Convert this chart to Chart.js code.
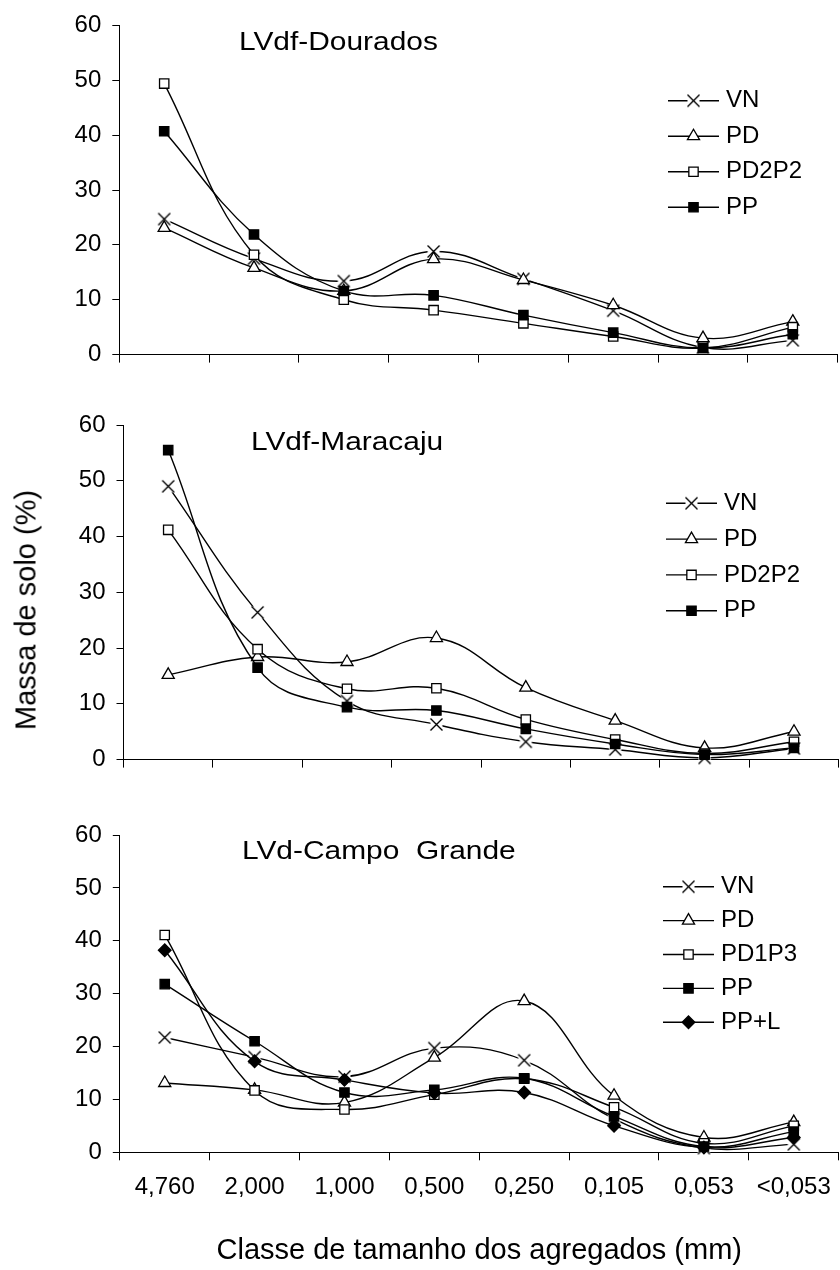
<!DOCTYPE html>
<html>
<head>
<meta charset="utf-8">
<script src="https://cdn.jsdelivr.net/npm/chart.js@4.4.1/dist/chart.umd.min.js"></script>
<style>
html, body { margin: 0; padding: 0; background: #fff; overflow: hidden; width: 840px; height: 1270px; }
#wrap { position: relative; width: 840px; height: 1270px; overflow: hidden; }
canvas { position: absolute; left: 0; }
.ptitle { position: absolute; font-family: 'Liberation Sans', Arial, sans-serif; font-size: 26px; line-height: 26px; white-space: pre; color: #000; transform: scaleX(1.15); transform-origin: 0 0; }
#ytitle { position: absolute; left: 26px; top: 610px; transform: translate(-50%, -50%) rotate(-90deg); font-family: 'Liberation Sans', Arial, sans-serif; font-size: 29px; line-height: 29px; white-space: nowrap; color: #000; }
</style>
</head>
<body>
<div id="wrap">
  <canvas id="c1" width="846" height="380" style="top:0px"></canvas>
  <canvas id="c2" width="847" height="400" style="top:385px"></canvas>
  <canvas id="c3" width="847" height="475" style="top:795px"></canvas>
  <div class="ptitle" id="t1" style="left:239.2px; top:28.3px"></div>
  <div class="ptitle" id="t2" style="left:250.7px; top:428.3px"></div>
  <div class="ptitle" id="t3" style="left:241.7px; top:836.6px"></div>
  <div id="ytitle"></div>
</div>
<script>
// ---------- data ----------
const categories = ['4,760', '2,000', '1,000', '0,500', '0,250', '0,105', '0,053', '<0,053'];
const yTickValues = [0, 10, 20, 30, 40, 50, 60];

const titleDourados = 'LVdf-Dourados';
const titleMaracaju = 'LVdf-Maracaju';
const titleCampoGrande = 'LVd-Campo  Grande';
const yAxisTitle = 'Massa de solo (%)';
const xAxisTitle = 'Classe de tamanho dos agregados (mm)';

// LVdf-Dourados
const douradosVN     = [24.7, 17.5, 13.4, 18.8, 13.8, 8.0, 1.3, 2.6];
const douradosPD     = [23.1, 15.8, 11.6, 17.4, 13.6, 9.0, 3.0, 6.0];
const douradosPD2P2  = [49.4, 18.2, 10.0, 8.1, 5.7, 3.3, 1.2, 5.0];
const douradosPP     = [40.7, 21.9, 11.6, 10.8, 7.2, 4.0, 1.2, 3.7];

// LVdf-Maracaju
const maracajuVN     = [49.0, 26.4, 10.5, 6.3, 3.2, 1.8, 0.3, 2.0];
const maracajuPD     = [15.2, 18.4, 17.5, 21.8, 12.9, 7.0, 2.1, 5.0];
const maracajuPD2P2  = [41.2, 19.8, 12.7, 12.8, 7.2, 3.6, 1.1, 3.2];
const maracajuPP     = [55.5, 16.5, 9.4, 8.8, 5.5, 2.8, 0.9, 2.1];

// LVd-Campo Grande
const campoVN        = [21.7, 18.0, 14.3, 19.7, 17.4, 6.3, 0.8, 1.5];
const campoPD        = [13.1, 11.8, 9.4, 17.9, 28.6, 10.7, 2.8, 5.7];
const campoPD1P3     = [41.1, 11.7, 8.1, 10.9, 13.9, 8.5, 1.7, 5.0];
const campoPP        = [31.8, 21.0, 11.3, 11.8, 14.0, 6.8, 1.1, 3.9];
const campoPPL       = [38.2, 17.2, 13.7, 11.2, 11.3, 5.0, 0.9, 2.8];

// ---------- styles ----------
const FONT = "'Liberation Sans', Arial, sans-serif";
Chart.defaults.font.family = FONT;
Chart.defaults.color = '#000';

function makeXMarker() {
  const c = document.createElement('canvas');
  c.width = 15; c.height = 15;
  const g = c.getContext('2d');
  g.fillStyle = '#fff';
  g.fillRect(1.5, 1.5, 12, 12);
  g.strokeStyle = '#000';
  g.lineWidth = 1.4;
  g.beginPath();
  g.moveTo(1.5, 1.5); g.lineTo(13.5, 13.5);
  g.moveTo(13.5, 1.5); g.lineTo(1.5, 13.5);
  g.stroke();
  return c;
}
const xMarker = makeXMarker();

const markerStyles = {
  cross:   { pointStyle: xMarker,    pointRadius: 7,   pointBackgroundColor: '#fff' },
  tri:     { pointStyle: 'triangle', pointRadius: 7,   pointBackgroundColor: '#fff' },
  square:  { pointStyle: 'rect',     pointRadius: 6.6, pointBackgroundColor: '#fff' },
  fsquare: { pointStyle: 'rect',     pointRadius: 6.6, pointBackgroundColor: '#000' },
  diamond: { pointStyle: 'rectRot',  pointRadius: 6.3, pointBackgroundColor: '#000' }
};

const LEG_FONT = 24;
const LEG_LINE = 51;
const LEG_BOX = 46;

function legendPlacer(x, yFirst, pad) {
  return {
    id: 'legendPlacer',
    afterLayout(chart) {
      const lg = chart.legend;
      if (!lg) return;
      lg.left = x - pad;
      lg.top = yFirst - LEG_FONT / 2 - pad;
      lg.width = 200;
      lg.height = 260;
      lg.right = lg.left + lg.width;
      lg.bottom = lg.top + lg.height;
    },
    afterDraw(chart) {
      const lg = chart.legend;
      if (!lg || !lg.legendHitBoxes) return;
      const ctx = chart.ctx;
      lg.legendItems.forEach((item, i) => {
        const hb = lg.legendHitBoxes[i];
        const ds = chart.data.datasets[item.datasetIndex];
        const cy = hb.top + hb.height / 2;
        const x0 = hb.left;
        ctx.save();
        ctx.strokeStyle = '#000';
        ctx.lineWidth = ds.borderWidth;
        ctx.beginPath();
        ctx.moveTo(x0, cy);
        ctx.lineTo(x0 + LEG_LINE, cy);
        ctx.stroke();
        ctx.fillStyle = ds.pointBackgroundColor;
        ctx.strokeStyle = ds.pointBorderColor;
        ctx.lineWidth = ds.pointBorderWidth;
        Chart.helpers.drawPoint(ctx, { pointStyle: ds.pointStyle, radius: ds.pointRadius, borderWidth: ds.pointBorderWidth, rotation: 0 }, x0 + LEG_LINE / 2, cy);
        ctx.restore();
      });
    }
  };
}

function makeChart(id, cfg) {
  const n = cfg.series.length;
  const datasets = cfg.series.map((s, i) => Object.assign({
    label: s.name,
    data: s.data,
    borderColor: '#000',
    borderWidth: 1.4,
    tension: 0.4,
    fill: false,
    pointBorderColor: '#000',
    pointBorderWidth: 1.3,
    clip: false,
    order: n - i
  }, markerStyles[s.marker]));

  return new Chart(document.getElementById(id), {
    type: 'line',
    data: { labels: categories, datasets },
    options: {
      responsive: false,
      animation: false,
      devicePixelRatio: 1,
      events: [],
      layout: { padding: { top: cfg.top, left: 0, right: 0, bottom: 0 } },
      scales: {
        x: {
          type: 'category',
          offset: true,
          grid: { offset: true, drawOnChartArea: false, drawTicks: true, tickLength: 8, color: '#000', tickColor: '#000', lineWidth: 1 },
          border: { display: true, color: '#000', width: 1 },
          ticks: { display: cfg.showX, autoSkip: false, maxRotation: 0, minRotation: 0, padding: 13, font: { size: 24 }, color: '#000' },
          title: { display: cfg.showX, text: xAxisTitle, font: { size: 29 }, color: '#000', padding: { top: 0, bottom: 2 } },
          afterFit: (s) => { s.height = cfg.xh; }
        },
        y: {
          min: yTickValues[0],
          max: yTickValues[yTickValues.length - 1],
          afterBuildTicks: (s) => { s.ticks = yTickValues.map(v => ({ value: v })); },
          grid: { drawOnChartArea: false, drawTicks: true, tickLength: 7, color: '#000', tickColor: '#000', lineWidth: 1 },
          border: { display: true, color: '#000', width: 1 },
          ticks: { padding: 11, font: { size: 24 }, color: '#000' },
          afterFit: (s) => { s.width = cfg.left; }
        }
      },
      plugins: {
        tooltip: { enabled: false },
        title: { display: false },
        legend: {
          display: true,
          position: 'chartArea',
          align: 'start',
          labels: {
            boxWidth: LEG_BOX,
            boxHeight: 10,
            padding: cfg.legPad,
            font: { size: LEG_FONT },
            color: '#000',
            sort: (a, b) => a.datasetIndex - b.datasetIndex,
            generateLabels: (chart) => Chart.defaults.plugins.legend.labels.generateLabels(chart).map(l => Object.assign(l, {
              fillStyle: 'rgba(0,0,0,0)', strokeStyle: 'rgba(0,0,0,0)', lineWidth: 0, pointStyle: undefined
            }))
          }
        }
      }
    },
    plugins: [legendPlacer(cfg.legX, cfg.legY, cfg.legPad)]
  });
}

document.getElementById('t1').textContent = titleDourados;
document.getElementById('t2').textContent = titleMaracaju;
document.getElementById('t3').textContent = titleCampoGrande;
document.getElementById('ytitle').textContent = yAxisTitle;

makeChart('c1', {
  top: 21.7, left: 119.3, xh: 21, showX: false,
  legX: 668, legY: 100.7, legPad: 11.5,
  series: [
    { name: 'VN', data: douradosVN, marker: 'cross' },
    { name: 'PD', data: douradosPD, marker: 'tri' },
    { name: 'PD2P2', data: douradosPD2P2, marker: 'square' },
    { name: 'PP', data: douradosPP, marker: 'fsquare' }
  ]
});

makeChart('c2', {
  top: 40, left: 123.5, xh: 20.7, showX: false,
  legX: 666, legY: 118.3, legPad: 11.8,
  series: [
    { name: 'VN', data: maracajuVN, marker: 'cross' },
    { name: 'PD', data: maracajuPD, marker: 'tri' },
    { name: 'PD2P2', data: maracajuPD2P2, marker: 'square' },
    { name: 'PP', data: maracajuPP, marker: 'fsquare' }
  ]
});

makeChart('c3', {
  top: 40, left: 119.8, xh: 117.7, showX: true,
  legX: 663, legY: 91.7, legPad: 9.9,
  series: [
    { name: 'VN', data: campoVN, marker: 'cross' },
    { name: 'PD', data: campoPD, marker: 'tri' },
    { name: 'PD1P3', data: campoPD1P3, marker: 'square' },
    { name: 'PP', data: campoPP, marker: 'fsquare' },
    { name: 'PP+L', data: campoPPL, marker: 'diamond' }
  ]
});
</script>
</body>
</html>
